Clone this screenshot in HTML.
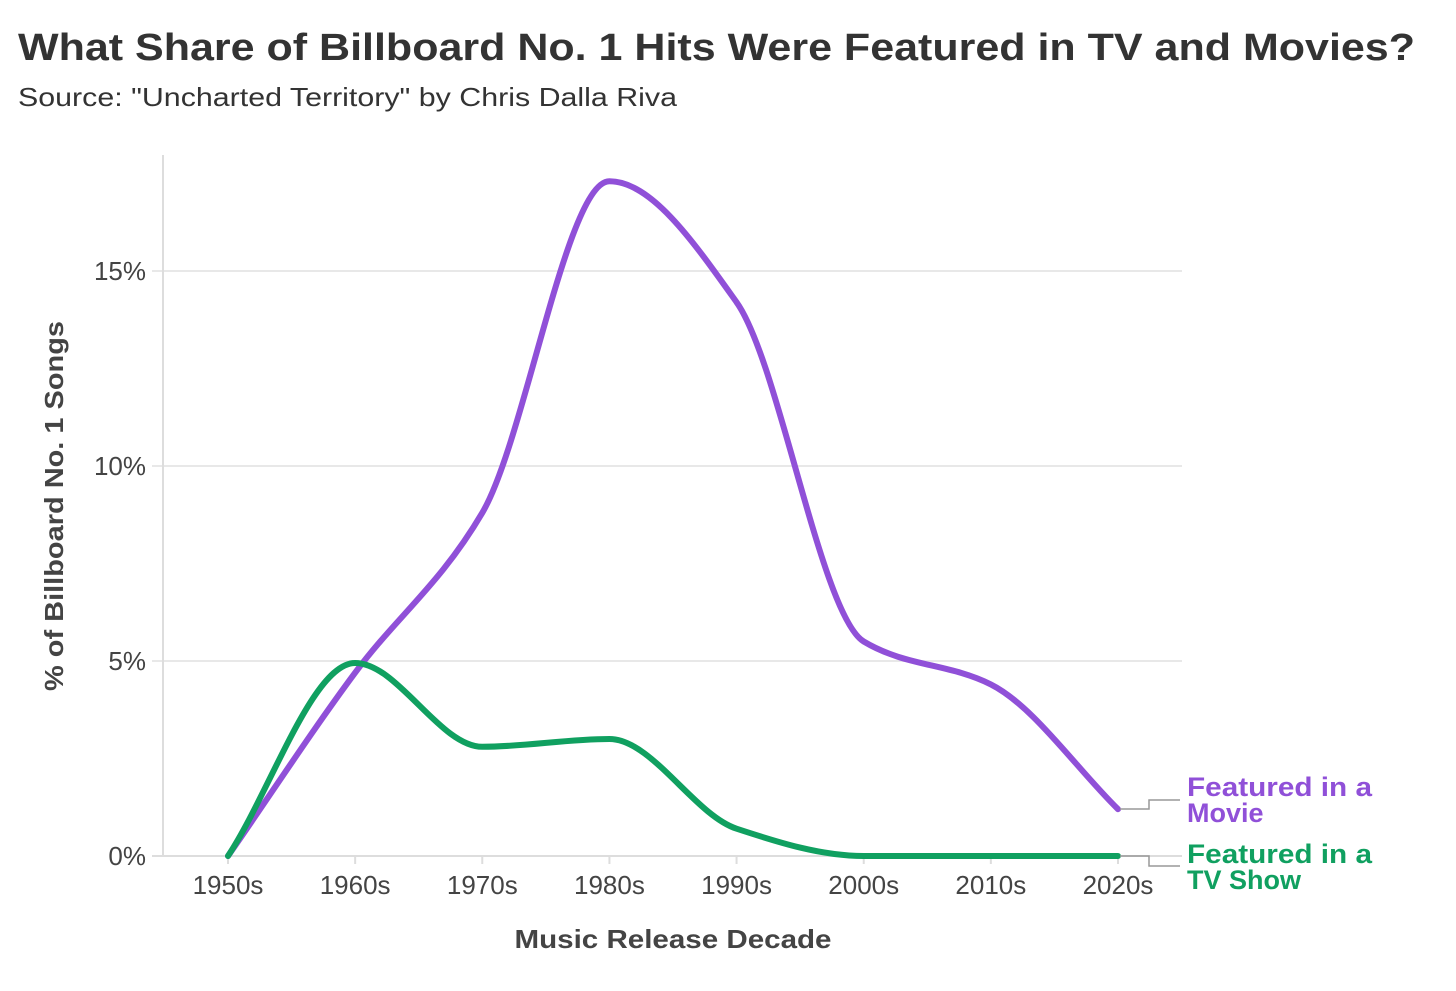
<!DOCTYPE html>
<html><head><meta charset="utf-8"><style>
body{margin:0;background:#fff;width:1456px;height:991px;overflow:hidden;font-family:"Liberation Sans",sans-serif;}
</style></head><body>
<svg width="1456" height="991" style="position:absolute;left:0;top:0">
<text x="18" y="60" font-size="38" font-weight="bold" fill="#333" textLength="1397" lengthAdjust="spacingAndGlyphs">What Share of Billboard No. 1 Hits Were Featured in TV and Movies?</text>
<text x="18" y="106" font-size="26" fill="#333" textLength="659" lengthAdjust="spacingAndGlyphs">Source: "Uncharted Territory" by Chris Dalla Riva</text>
<g id="grid"></g>
<line x1="163" y1="155" x2="163" y2="856" stroke="#ddd" stroke-width="2"/>
<g id="marks"></g>
<text transform="translate(63,506) rotate(-90)" text-anchor="middle" font-size="26" font-weight="bold" fill="#444" textLength="370" lengthAdjust="spacingAndGlyphs">% of Billboard No. 1 Songs</text>
<text x="673" y="948" text-anchor="middle" font-size="26" font-weight="bold" fill="#444" textLength="317" lengthAdjust="spacingAndGlyphs">Music Release Decade</text>
<path d="M1120,809H1149V800H1180" fill="none" stroke="#999" stroke-width="1.5"/>
<path d="M1120,856H1149V866H1180" fill="none" stroke="#999" stroke-width="1.5"/>
<text x="1187" y="796" font-size="27" font-weight="bold" fill="#9050d8" textLength="185" lengthAdjust="spacingAndGlyphs">Featured in a</text>
<text x="1187" y="822" font-size="27" font-weight="bold" fill="#9050d8">Movie</text>
<text x="1187" y="863" font-size="27" font-weight="bold" fill="#10a060" textLength="185" lengthAdjust="spacingAndGlyphs">Featured in a</text>
<text x="1187" y="889" font-size="27" font-weight="bold" fill="#10a060">TV Show</text>
</svg>
<script>
const decades=["1950s","1960s","1970s","1980s","1990s","2000s","2010s","2020s"];
const movieValues=[0,4.7,8.8,17.3,14.2,5.5,4.4,1.2];
const tvValues=[0,4.95,2.8,3.0,0.7,0,0,0];
const yTicks=[0,5,10,15];
const yTickLabels=["0%","5%","10%","15%"];
const NS="http://www.w3.org/2000/svg";
const x=i=>228+i*(1118-228)/(decades.length-1);
const y=v=>856-v*39;
const grid=document.getElementById('grid'),marks=document.getElementById('marks');
function mk(t,a,p){const e=document.createElementNS(NS,t);for(const k in a)e.setAttribute(k,a[k]);p.appendChild(e);return e;}
yTicks.forEach((t,i)=>{
 const l=mk('line',{x1:152,x2:1182,y1:y(t),y2:y(t),stroke:t===0?'#ddd':'#e8e8e8','stroke-width':2},grid);
 
 
 const tx=mk('text',{x:146,y:y(t)+9,'text-anchor':'end','font-size':26,fill:'#444'},grid);
 tx.textContent=yTickLabels[i];
 
 
});
decades.forEach((d,i)=>{
 const l=mk('line',{x1:x(i),x2:x(i),y1:856,y2:864,stroke:'#ddd','stroke-width':2},grid);
 
 
 const tx=mk('text',{x:x(i),y:894,'text-anchor':'middle','font-size':26,fill:'#444'},grid);
 tx.textContent=d;
 
 
});
function monotone(vals){
 const n=vals.length,px=vals.map((v,i)=>x(i)),py=vals.map(y);
 const s=[],m=[];
 for(let i=0;i<n-1;i++)s.push((py[i+1]-py[i])/(px[i+1]-px[i]));
 m[0]=s[0];m[n-1]=s[n-2];
 for(let i=1;i<n-1;i++){m[i]=s[i-1]*s[i]<=0?0:2*s[i-1]*s[i]/(s[i-1]+s[i]);}
 let d='M'+px[0]+','+py[0];
 for(let i=0;i<n-1;i++){const h=(px[i+1]-px[i])/3;
  d+='C'+(px[i]+h)+','+(py[i]+m[i]*h)+' '+(px[i+1]-h)+','+(py[i+1]-m[i+1]*h)+' '+px[i+1]+','+py[i+1];}
 return d;
}
const pm=mk('path',{d:monotone(movieValues),fill:'none',stroke:'#9050d8','stroke-width':6,'stroke-linecap':'round'},marks);


const pt=mk('path',{d:monotone(tvValues),fill:'none',stroke:'#10a060','stroke-width':6,'stroke-linecap':'round'},marks);


</script>
</body></html>
